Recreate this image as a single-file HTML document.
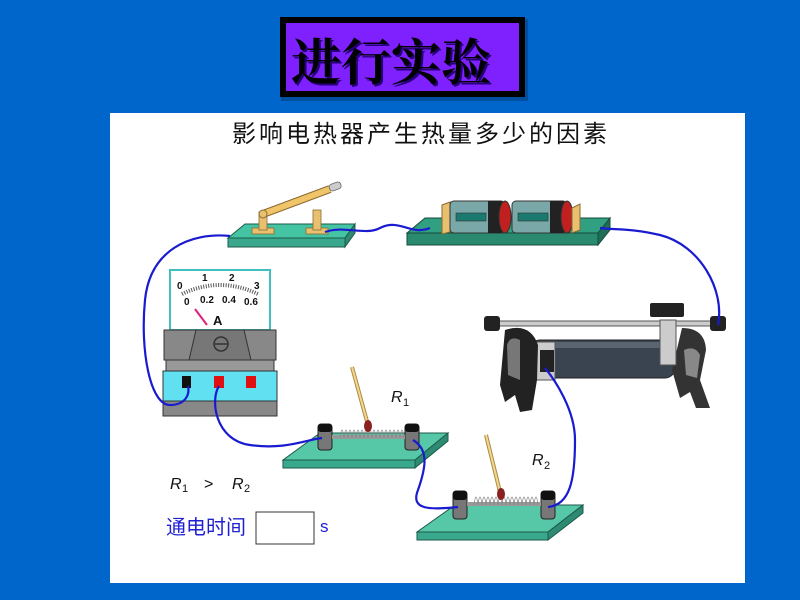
<!DOCTYPE html>
<html><head><meta charset="utf-8"><style>
html,body{margin:0;padding:0;background:#0066cc;}
svg{display:block}
</style></head><body>
<svg width="800" height="600" viewBox="0 0 800 600" xmlns="http://www.w3.org/2000/svg" font-family="Liberation Sans, Noto Sans CJK SC, sans-serif">
<rect width="800" height="600" fill="#0066cc"/>
<rect x="281" y="19" width="247" height="82" fill="#003f80" opacity="0.6"/>
<rect x="280" y="17" width="245" height="80" fill="#000"/>
<rect x="286" y="23" width="233" height="68" fill="#7f20ff"/>
<text x="293" y="82" font-size="50" font-weight="bold" fill="#26007a" font-family="Noto Serif CJK SC, serif">进行实验</text>
<text x="291" y="80" font-size="50" font-weight="bold" fill="#000" font-family="Noto Serif CJK SC, serif">进行实验</text>
<rect x="110" y="113" width="635" height="470" fill="#fff"/>
<text x="232" y="142" font-size="24" letter-spacing="3" fill="#111" font-family="Noto Sans CJK SC, sans-serif">影响电热器产生热量多少的因素</text>

<polygon points="245,224 355,224 345,238 228,238" fill="#45c4a4" stroke="#1c5a4a" stroke-width="1"/>
<polygon points="228,238 345,238 345,247 228,247" fill="#3aa88c" stroke="#1c5a4a" stroke-width="1"/>
<polygon points="345,238 355,224 355,233 345,247" fill="#2e8a72" stroke="#1c5a4a" stroke-width="1"/>
<rect x="252" y="228" width="22" height="6" fill="#e8c070" stroke="#8a6a30" stroke-width="0.8"/>
<rect x="259" y="212" width="8" height="18" fill="#e8c070" stroke="#8a6a30" stroke-width="0.8"/>
<line x1="263" y1="214" x2="330" y2="189" stroke="#8a6a30" stroke-width="8"/>
<line x1="263" y1="214" x2="330" y2="189" stroke="#f0c468" stroke-width="6"/>
<rect x="329" y="183" width="12" height="7" rx="3" transform="rotate(-20 335 186)" fill="#ccc" stroke="#666" stroke-width="0.8"/>
<circle cx="263" cy="214" r="4" fill="#e8c070" stroke="#8a6a30"/>
<rect x="306" y="228" width="22" height="6" fill="#e8c070" stroke="#8a6a30" stroke-width="0.8"/>
<rect x="313" y="210" width="8" height="20" fill="#e8c070" stroke="#8a6a30" stroke-width="0.8"/>

<polygon points="425,218 610,218 598,233 407,233" fill="#30a080" stroke="#164a3c"/>
<polygon points="407,233 598,233 598,245 407,245" fill="#2a8a70" stroke="#164a3c"/>
<polygon points="598,233 610,218 610,230 598,245" fill="#1f6e58" stroke="#164a3c"/>
<polygon points="442,205 450,202 450,232 442,234" fill="#e8c070" stroke="#8a6a30"/>
<g>
<rect x="450" y="201" width="55" height="32" rx="4" fill="#7aa8a8" stroke="#333"/>
<rect x="488" y="201" width="14" height="32" fill="#222"/>
<ellipse cx="505" cy="217" rx="6" ry="16" fill="#c02020" stroke="#333"/>
<rect x="456" y="213" width="30" height="8" fill="#1a7a70" stroke="#333" stroke-width="0.6"/>
<rect x="512" y="201" width="55" height="32" rx="4" fill="#7aa8a8" stroke="#333"/>
<rect x="550" y="201" width="14" height="32" fill="#222"/>
<ellipse cx="567" cy="217" rx="6" ry="16" fill="#c02020" stroke="#333"/>
<rect x="518" y="213" width="30" height="8" fill="#1a7a70" stroke="#333" stroke-width="0.6"/>
</g>
<polygon points="572,208 580,204 580,230 572,233" fill="#e8c070" stroke="#8a6a30"/>

<rect x="170" y="270" width="100" height="60" fill="#fff" stroke="#40c0c0" stroke-width="2"/>
<path d="M182 294 Q220 276 258 294" fill="none" stroke="#555" stroke-width="4" stroke-dasharray="1 1.5"/>
<g font-size="10" font-weight="bold" fill="#111">
<text x="177" y="289">0</text><text x="202" y="281">1</text><text x="229" y="281">2</text><text x="254" y="289">3</text>
<text x="184" y="305">0</text><text x="200" y="303">0.2</text><text x="222" y="303">0.4</text><text x="244" y="305">0.6</text>
</g>
<line x1="195" y1="309" x2="207" y2="325" stroke="#e0207a" stroke-width="2"/>
<text x="213" y="325" font-size="13" font-weight="bold" fill="#111">A</text>
<rect x="164" y="330" width="112" height="30" fill="#888" stroke="#333"/>
<polygon points="196,330 244,330 251,360 189,360" fill="#777" stroke="#333"/>
<circle cx="221" cy="344" r="7" fill="none" stroke="#333" stroke-width="1.5"/>
<line x1="214" y1="344" x2="228" y2="344" stroke="#333" stroke-width="1.5"/>
<rect x="166" y="360" width="108" height="11" fill="#999" stroke="#333"/>
<rect x="163" y="371" width="114" height="30" fill="#60e0f0" stroke="#333"/>
<rect x="163" y="401" width="114" height="15" fill="#888" stroke="#333"/>
<rect x="182" y="376" width="9" height="12" fill="#111"/>
<rect x="214" y="376" width="10" height="12" fill="#e01010"/>
<rect x="246" y="376" width="10" height="12" fill="#e01010"/>

<!-- rheostat -->
<rect x="490" y="321" width="230" height="5" fill="#ccc" stroke="#555"/>
<rect x="484" y="316" width="16" height="15" rx="3" fill="#222"/>
<rect x="710" y="316" width="16" height="15" rx="3" fill="#222"/>
<rect x="650" y="303" width="34" height="14" rx="2" fill="#222"/>
<rect x="530" y="340" width="145" height="38" rx="10" fill="#3a4450" stroke="#222"/>
<rect x="530" y="342" width="145" height="6" fill="#6a7480" opacity="0.7"/>
<rect x="533" y="342" width="22" height="38" fill="#ccc" stroke="#555"/>
<path d="M505 330 Q530 322 538 345 L537 380 L532 410 L520 412 L515 395 L505 402 L500 385 Z" fill="#222"/>
<path d="M507 345 Q510 335 520 340 L520 380 L508 375 Z" fill="#777"/>
<path d="M682 328 Q705 328 706 350 L700 380 L710 408 L696 408 L690 392 L680 398 L672 370 Z" fill="#333"/>
<path d="M684 350 Q695 345 700 355 L697 378 L686 375 Z" fill="#888"/>
<rect x="660" y="320" width="16" height="45" fill="#ccc" stroke="#555"/>
<rect x="540" y="350" width="14" height="22" fill="#222"/>

<polygon points="320,433 448,433 415,460 283,460" fill="#56c8a8" stroke="#1c5a4a"/>
<polygon points="283,460 415,460 415,468 283,468" fill="#3aa88c" stroke="#1c5a4a"/>
<polygon points="415,460 448,433 448,441 415,468" fill="#2e8a72" stroke="#1c5a4a"/>
<rect x="318" y="424" width="14" height="26" rx="3" fill="#777" stroke="#222"/>
<rect x="318" y="424" width="14" height="8" rx="3" fill="#111"/>
<rect x="405" y="424" width="14" height="26" rx="3" fill="#777" stroke="#222"/>
<rect x="405" y="424" width="14" height="8" rx="3" fill="#111"/>
<rect x="332" y="435" width="73" height="4" fill="#999"/>
<path d="M340 438 q2 -16 4 0 q2 -16 4 0 q2 -16 4 0 q2 -16 4 0 q2 -16 4 0 q2 -16 4 0 q2 -16 4 0 q2 -16 4 0 q2 -16 4 0 q2 -16 4 0 q2 -16 4 0 q2 -16 4 0 q2 -16 4 0 q2 -16 4 0 q2 -16 4 0 q2 -16 4 0" fill="none" stroke="#888" stroke-width="0.8"/>
<line x1="352" y1="367" x2="368" y2="425" stroke="#b08a40" stroke-width="4"/>
<line x1="352" y1="367" x2="368" y2="425" stroke="#f0d890" stroke-width="2"/>
<ellipse cx="368" cy="426" rx="4" ry="6" fill="#8a2020"/>
<text x="391" y="402" font-size="16" font-style="italic" fill="#111">R</text><text x="403" y="406" font-size="11" fill="#111">1</text>

<polygon points="455,505 583,505 548,532 417,532" fill="#56c8a8" stroke="#1c5a4a"/>
<polygon points="417,532 548,532 548,540 417,540" fill="#3aa88c" stroke="#1c5a4a"/>
<polygon points="548,532 583,505 583,513 548,540" fill="#2e8a72" stroke="#1c5a4a"/>
<rect x="453" y="491" width="14" height="28" rx="3" fill="#777" stroke="#222"/>
<rect x="453" y="491" width="14" height="9" rx="3" fill="#111"/>
<rect x="541" y="491" width="14" height="28" rx="3" fill="#777" stroke="#222"/>
<rect x="541" y="491" width="14" height="9" rx="3" fill="#111"/>
<rect x="467" y="502" width="74" height="4" fill="#999"/>
<path d="M474 505 q2 -16 4 0 q2 -16 4 0 q2 -16 4 0 q2 -16 4 0 q2 -16 4 0 q2 -16 4 0 q2 -16 4 0 q2 -16 4 0 q2 -16 4 0 q2 -16 4 0 q2 -16 4 0 q2 -16 4 0 q2 -16 4 0 q2 -16 4 0 q2 -16 4 0 q2 -16 4 0" fill="none" stroke="#888" stroke-width="0.8"/>
<line x1="486" y1="435" x2="500" y2="492" stroke="#b08a40" stroke-width="4"/>
<line x1="486" y1="435" x2="500" y2="492" stroke="#f0d890" stroke-width="2"/>
<ellipse cx="501" cy="494" rx="4" ry="6" fill="#8a2020"/>
<text x="532" y="465" font-size="16" font-style="italic" fill="#111">R</text><text x="544" y="469" font-size="11" fill="#111">2</text>

<g fill="none" stroke="#1a1ad0" stroke-width="2.2">
<path d="M230 236 C190 232 150 250 145 300 C140 350 150 405 170 405 C185 405 190 395 188 386"/>
<path d="M219 386 C210 400 215 440 250 445 C285 450 305 440 322 438"/>
<path d="M413 440 C430 450 425 470 418 490 C410 510 430 510 458 507"/>
<path d="M548 507 C570 505 575 480 575 440 C575 410 555 380 545 368"/>
<path d="M718 325 C725 290 700 245 660 235 C630 228 615 230 600 228"/>
<path d="M430 228 C410 236 400 218 380 228 C365 236 345 225 325 232"/>
</g>

<text x="170" y="489" font-size="16" font-style="italic" fill="#111">R</text><text x="182" y="492" font-size="11" fill="#111">1</text>
<text x="204" y="489" font-size="16" fill="#111">&gt;</text>
<text x="232" y="489" font-size="16" font-style="italic" fill="#111">R</text><text x="244" y="492" font-size="11" fill="#111">2</text>
<text x="166" y="534" font-size="20" fill="#2020d0" font-family="Noto Sans CJK SC, sans-serif">通电时间</text>
<rect x="256" y="512" width="58" height="32" fill="#fff" stroke="#333" stroke-width="1"/>
<text x="320" y="532" font-size="17" fill="#2020d0">s</text>
</svg>
</body></html>
